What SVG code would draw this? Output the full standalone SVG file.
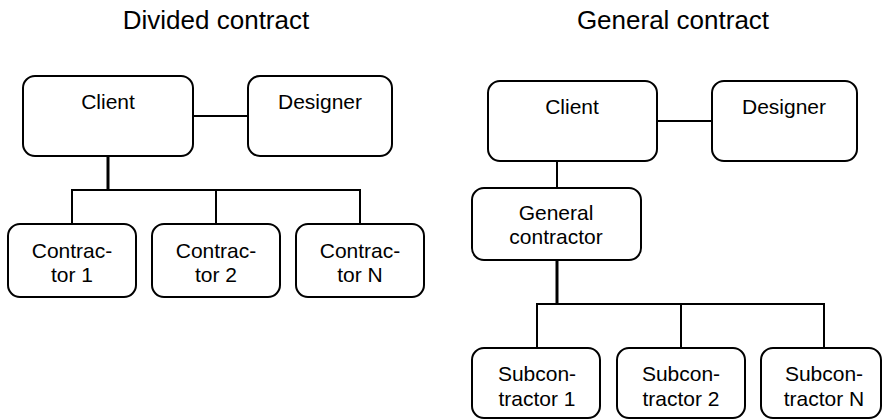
<svg xmlns="http://www.w3.org/2000/svg" width="882" height="419" viewBox="0 0 882 419">
<style>
.box{fill:#fff;stroke:#000;stroke-width:2}
.ln{stroke:#000;stroke-width:2;fill:none}
.tk{stroke:#000;stroke-width:3;fill:none}
text{font-family:"Liberation Sans",Arial,sans-serif;fill:#000;text-anchor:middle}
.t{font-size:21px}
.h{font-size:26px}
</style>
<rect width="882" height="419" fill="#fff"/>
<text class="h" x="216" y="29">Divided contract</text>
<text class="h" x="673" y="29">General contract</text>
<g id="connectors">
<line class="ln" x1="193" y1="116" x2="248" y2="116"/>
<line class="tk" x1="108" y1="156" x2="108" y2="190"/>
<polyline class="ln" points="72,224 72,190 360,190 360,224"/>
<line class="ln" x1="216" y1="190" x2="216" y2="224"/>
<line class="ln" x1="657" y1="121" x2="712" y2="121"/>
<line class="ln" x1="557" y1="161" x2="557" y2="188"/>
<line class="tk" x1="557" y1="260" x2="557" y2="304"/>
<polyline class="ln" points="537,348 537,304 824,304 824,348"/>
<line class="ln" x1="681" y1="304" x2="681" y2="348"/>
</g>
<g id="d-client"><rect class="box" x="23" y="76" width="170" height="80" rx="12"/><text class="t" x="108" y="109">Client</text></g>
<g id="d-designer"><rect class="box" x="248" y="76" width="144" height="80" rx="12"/><text class="t" x="320" y="109">Designer</text></g>
<g id="d-contractor1"><rect class="box" x="8" y="224" width="128" height="73" rx="12"/><text class="t" x="72" y="258">Contrac-</text><text class="t" x="72" y="282">tor 1</text></g>
<g id="d-contractor2"><rect class="box" x="152" y="224" width="128" height="73" rx="12"/><text class="t" x="216" y="258">Contrac-</text><text class="t" x="216" y="282">tor 2</text></g>
<g id="d-contractorN"><rect class="box" x="296" y="224" width="128" height="73" rx="12"/><text class="t" x="360" y="258">Contrac-</text><text class="t" x="360" y="282">tor N</text></g>
<g id="g-client"><rect class="box" x="488" y="81" width="169" height="80" rx="12"/><text class="t" x="572" y="114">Client</text></g>
<g id="g-designer"><rect class="box" x="712" y="81" width="145" height="80" rx="12"/><text class="t" x="784" y="114">Designer</text></g>
<g id="g-general"><rect class="box" x="472" y="188" width="169" height="72" rx="12"/><text class="t" x="556" y="220">General</text><text class="t" x="556" y="244">contractor</text></g>
<g id="g-sub1"><rect class="box" x="472" y="348" width="128" height="70" rx="12"/><text class="t" x="537" y="381">Subcon-</text><text class="t" x="537" y="406">tractor 1</text></g>
<g id="g-sub2"><rect class="box" x="617" y="348" width="128" height="70" rx="12"/><text class="t" x="681" y="381">Subcon-</text><text class="t" x="681" y="406">tractor 2</text></g>
<g id="g-subN"><rect class="box" x="761" y="348" width="120" height="70" rx="12"/><text class="t" x="824" y="381">Subcon-</text><text class="t" x="824" y="406">tractor N</text></g>
</svg>
